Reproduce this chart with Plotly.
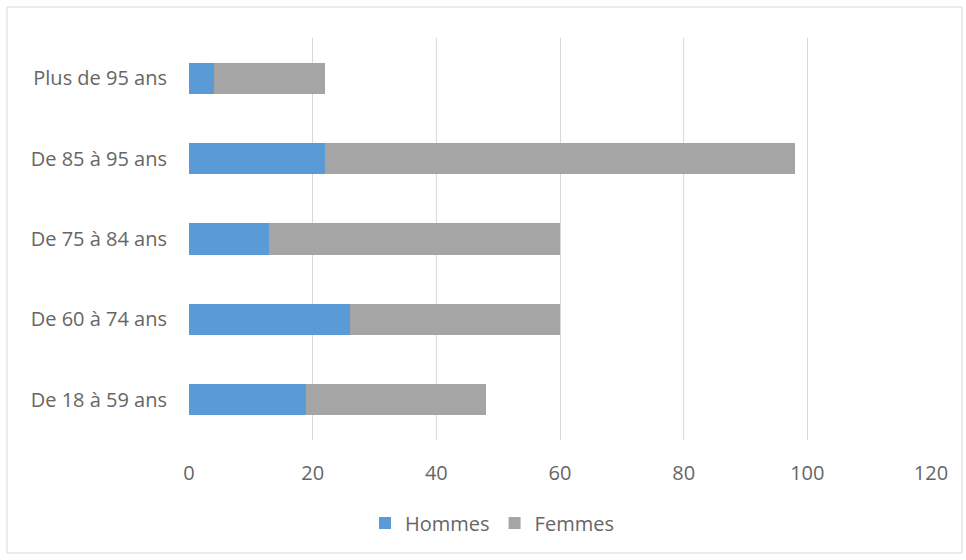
import plotly.graph_objects as go

categories = ["De 18 à 59 ans", "De 60 à 74 ans", "De 75 à 84 ans", "De 85 à 95 ans", "Plus de 95 ans"]
hommes = [19, 26, 13, 22, 4]
femmes = [29, 34, 47, 76, 18]
x_ticks = [0, 20, 40, 60, 80, 100, 120]

FONT = "'Open Sans', Lato, sans-serif"
TXT = "#666666"

fig = go.Figure()
fig.add_trace(go.Bar(y=categories, x=hommes, name="Hommes", orientation="h",
                     marker=dict(color="#5B9BD5", line=dict(width=0))))
fig.add_trace(go.Bar(y=categories, x=femmes, name="Femmes", orientation="h",
                     marker=dict(color="#A5A5A5", line=dict(width=0))))

L, R, T, B = 189, 35, 38, 120
W, H = 966, 560
pw, ph = W - L - R, H - T - B

def px_x(p):
    return (p - L) / pw

def px_y(p):
    return (H - B - p) / ph

FS = 20

fig.update_layout(
    barmode="stack",
    bargap=0.61,
    width=W, height=H,
    margin=dict(l=L, r=R, t=T, b=B, pad=0),
    paper_bgcolor="white", plot_bgcolor="white",
    font=dict(family=FONT, size=FS, color=TXT),
    showlegend=True,
    legend=dict(orientation="h", x=px_x(492), xanchor="center", y=px_y(523), yanchor="middle",
                font=dict(size=FS, color=TXT), traceorder="normal", itemwidth=30),
    xaxis=dict(range=[0, 120], tickvals=x_ticks, showgrid=True, gridcolor="#D9D9D9", gridwidth=1,
               zeroline=False, showline=False, ticks="", ticklabelstandoff=19,
               tickfont=dict(size=FS, color=TXT), fixedrange=True),
    yaxis=dict(categoryorder="array", categoryarray=categories, showgrid=False, zeroline=False,
               showline=False, ticks="", ticklabelstandoff=21, tickfont=dict(size=FS, color=TXT)),
    shapes=[dict(type="rect", xref="paper", yref="paper",
                 x0=px_x(7), x1=px_x(962), y0=px_y(553), y1=px_y(7),
                 line=dict(color="#D9D9D9", width=1), fillcolor="rgba(0,0,0,0)", layer="below")],
)

fig.write_html("out.html")
